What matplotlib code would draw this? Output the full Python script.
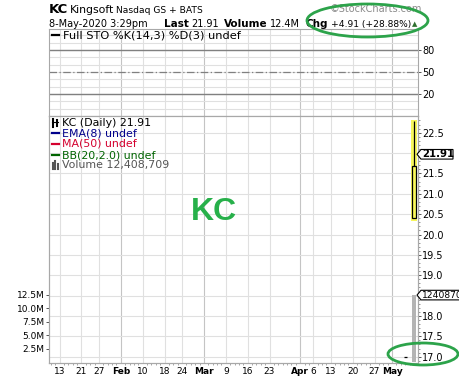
import numpy as np
import pandas as pd
import matplotlib
matplotlib.use("Agg")
from matplotlib import pyplot as plt
from matplotlib import patches, lines, transforms

# trading calendar on the chart
holidays = ["2020-01-20", "2020-02-17", "2020-04-10"]
days = pd.bdate_range("2020-01-09", "2020-05-08", freq="C", holidays=holidays)

tick_dates = ["2020-01-13", "2020-01-21", "2020-01-27", "2020-02-03", "2020-02-10",
              "2020-02-18", "2020-02-24", "2020-03-02", "2020-03-09", "2020-03-16",
              "2020-03-23", "2020-04-01", "2020-04-06", "2020-04-13", "2020-04-20",
              "2020-04-27", "2020-05-01"]
tick_labels = ["13", "21", "27", "Feb", "10", "18", "24", "Mar", "9", "16", "23",
               "Apr", "6", "13", "20", "27", "May"]
month_labels = ["Feb", "Mar", "Apr", "May"]

# the only bar drawn (8-May-2020)
bar_date = "2020-05-08"
bar_open = 20.40
bar_high = 22.78
bar_low = 20.35
bar_close = 21.68
bar_volume = 12408709
last_price = 21.91

# small dash near the previous close
prev_date = "2020-05-06"
prev_price = 17.00

price_ticks = [17.0, 17.5, 18.0, 18.5, 19.0, 19.5, 20.0, 20.5, 21.0, 21.5, 22.0, 22.5]
volume_ticks = [2.5e6, 5.0e6, 7.5e6, 10.0e6, 12.5e6]
volume_tick_labels = ["2.5M", "5.0M", "7.5M", "10.0M", "12.5M"]
sto_ticks = [20, 50, 80]

W, H = 460, 377


def fx(px):
    return px / W


def fy(py):
    return 1 - py / H


def idx(date):
    return days.get_loc(pd.Timestamp(date))


fig = plt.figure(figsize=(W / 100, H / 100), dpi=100)
fig.patch.set_facecolor("white")

ax_sto = fig.add_axes([fx(49), fy(116), fx(418) - fx(49), fy(29) - fy(116)])
ax_px = fig.add_axes([fx(49), fy(363), fx(418) - fx(49), fy(116) - fy(363)])
ax_vol = ax_px.twinx()
ax_px.yaxis.tick_right()
ax_vol.yaxis.tick_left()

xlim = (-0.4, 83.94)
tick_pos = [idx(d) for d in tick_dates]
spine_c = "#a8a8a8"

for ax in (ax_sto, ax_px, ax_vol):
    ax.set_xlim(*xlim)
    for s in ax.spines.values():
        s.set_color(spine_c)
        s.set_linewidth(0.8)

# vertical grid
for ax in (ax_sto, ax_px):
    for p, lab in zip(tick_pos, tick_labels):
        c = "#c4c4c4" if lab in month_labels else "#e0e0e0"
        ax.axvline(p, color=c, lw=0.8, zorder=0)

# stochastic panel
ax_sto.set_ylim(-10, 108.6)
for v in range(0, 101, 10):
    ax_sto.axhline(v, color="#e0e0e0", lw=0.8, zorder=0)
ax_sto.axhline(80, color="#808080", lw=1.0, zorder=1)
ax_sto.axhline(20, color="#808080", lw=1.0, zorder=1)
ax_sto.axhline(50, color="#808080", lw=0.9, ls=(0, (6, 2, 1, 2)), zorder=1)
ax_sto.set_xticks([])
ax_sto.yaxis.tick_right()
ax_sto.set_yticks(sto_ticks)
ax_sto.tick_params(axis="y", length=2.2, width=0.7, color="#555555", pad=0.8,
                   labelsize=7)

# price panel
ax_px.set_ylim(16.845, 22.91)
for v in price_ticks:
    ax_px.axhline(v, color="#e0e0e0", lw=0.8, zorder=0)
ax_px.set_yticks(price_ticks)
ax_px.set_yticklabels(["%.1f" % v for v in price_ticks])
ax_px.set_yticks(np.arange(16.9, 22.9, 0.1), minor=True)
ax_px.tick_params(axis="y", which="major", length=2.2, width=0.7, color="#555555",
                  pad=0.8, labelsize=7)
ax_px.tick_params(axis="y", which="minor", length=1.2, width=0.6, color="#888888")

ax_px.set_xticks(tick_pos)
ax_px.set_xticklabels(tick_labels)
for t, lab in zip(ax_px.get_xticklabels(), tick_labels):
    if lab in month_labels:
        t.set_fontweight("bold")
ax_px.set_xticks(np.arange(0, len(days)), minor=True)
ax_px.tick_params(axis="x", which="major", length=0, pad=3, labelsize=6.5)
ax_px.tick_params(axis="x", which="minor", length=1.5, width=0.6, color="#999999")

xb = idx(bar_date)
ax_px.add_patch(patches.Rectangle((xb - 0.68, bar_low - 0.03), 1.36,
                                  bar_high - bar_low + 0.05,
                                  facecolor="#f7f75c", edgecolor="none", zorder=2))
ax_px.vlines(xb, bar_close, bar_high, color="black", lw=0.9, zorder=3)
ax_px.add_patch(patches.Rectangle((xb - 0.45, bar_open), 0.9, bar_close - bar_open,
                                  facecolor="none", edgecolor="black", lw=0.9,
                                  zorder=3))
xp = idx(prev_date)
ax_px.hlines(prev_price, xp - 0.35, xp + 0.35, color="black", lw=0.9, zorder=3)

# volume
ax_vol.set_ylim(-0.1e6, 45.4e6)
ax_vol.bar([xb], [bar_volume], width=0.9, color="#b4b4b4", zorder=2)
ax_vol.set_yticks(volume_ticks)
ax_vol.set_yticklabels(volume_tick_labels)
ax_vol.tick_params(axis="y", length=2.2, width=0.7, color="#555555", pad=0.8,
                   labelsize=6.5)


# price and volume tags on the right edge
def tag(ax, y, text, x_end, bold, size):
    lo, hi = ax.get_ylim()
    dh = 4.8 * (hi - lo) / 247.0
    tr = transforms.blended_transform_factory(fig.transFigure, ax.transData)
    pts = [(fx(417), y), (fx(421), y + dh), (fx(x_end), y + dh),
           (fx(x_end), y - dh), (fx(421), y - dh)]
    fig.add_artist(patches.Polygon(pts, closed=True, facecolor="white",
                                   edgecolor="black", lw=0.8, transform=tr,
                                   zorder=5))
    fig.add_artist(plt.Text(fx(422), y, text, transform=tr, va="center",
                            ha="left", fontsize=size,
                            fontweight="bold" if bold else "normal", zorder=6))


tag(ax_px, 21.97, "%.2f" % last_price, 453, True, 7.3)
tag(ax_vol, bar_volume, "%d" % bar_volume, 475, False, 6.6)

# legends
fig.add_artist(lines.Line2D([fx(52), fx(59)], [fy(35), fy(35)], color="black", lw=1.6))
fig.text(fx(63), fy(35), "Full STO %K(14,3) %D(3) undef", fontsize=8.2, va="center")

legend_rows = [
    ("KC (Daily) %.2f" % last_price, "black", 123),
    ("EMA(8) undef", "#00008b", 133),
    ("MA(50) undef", "#d4002e", 144),
    ("BB(20,2.0) undef", "#006400", 155),
    ("Volume 12,408,709", "#555555", 165),
]
for text, c, yy in legend_rows:
    fig.text(fx(62), fy(yy), text, fontsize=7.9, color=c, va="center")
for text, c, yy in legend_rows[1:4]:
    fig.add_artist(lines.Line2D([fx(52), fx(59)], [fy(yy), fy(yy)], color=c, lw=1.6))
# candle icon
for xx, y0, y1 in [(53.5, 119, 127), (57.5, 120, 126)]:
    fig.add_artist(lines.Line2D([fx(xx), fx(xx)], [fy(y0), fy(y1)], color="black", lw=1.5))
fig.add_artist(lines.Line2D([fx(52.5), fx(58.5)], [fy(122), fy(122)], color="black", lw=0.8))
# volume icon
for xx, hh in [(53, 6), (55.5, 8), (58, 5)]:
    fig.add_artist(lines.Line2D([fx(xx), fx(xx)], [fy(169), fy(169 - hh)], color="#555555", lw=1.5))

# header
fig.text(fx(49), fy(13), "KC", fontsize=9.5, fontweight="bold")
fig.text(fx(70), fy(13), "Kingsoft", fontsize=7.8)
fig.text(fx(116), fy(13), "Nasdaq GS + BATS", fontsize=6.6)
fig.text(fx(330), fy(11.5), "\u00a9StockCharts.com", fontsize=7, color="#8a8a8a")
fig.text(fx(49), fy(27), "8-May-2020 3:29pm", fontsize=7)
fig.text(fx(164), fy(27), "Last", fontsize=7.5, fontweight="bold")
fig.text(fx(191), fy(27), "%.2f" % last_price, fontsize=7)
fig.text(fx(224), fy(27), "Volume", fontsize=7.5, fontweight="bold")
fig.text(fx(270), fy(27), "12.4M", fontsize=7)
fig.text(fx(306), fy(27), "Chg", fontsize=7.5, fontweight="bold")
fig.text(fx(331), fy(27), "+4.91 (+28.88%)", fontsize=6.6)
fig.text(fx(412), fy(26.5), "\u25b2", fontsize=5, color="#2f6f2f")

# big symbol watermark
fig.text(fx(214), fy(220), "KC", fontsize=23, fontweight="bold", color="#27b04a",
         family="Liberation Sans", ha="center", va="baseline")

# annotation ellipses
green = "#2ca34a"
fig.add_artist(patches.Ellipse((fx(367.5), fy(20.5)), 121 / W, 33 / H, fill=False,
                               edgecolor=green, lw=2.0, transform=fig.transFigure,
                               zorder=10))
fig.add_artist(patches.Ellipse((fx(423), fy(354)), 70 / W, 22 / H, fill=False,
                               edgecolor=green, lw=2.0, transform=fig.transFigure,
                               zorder=10))

fig.savefig("out.png", dpi=100)
